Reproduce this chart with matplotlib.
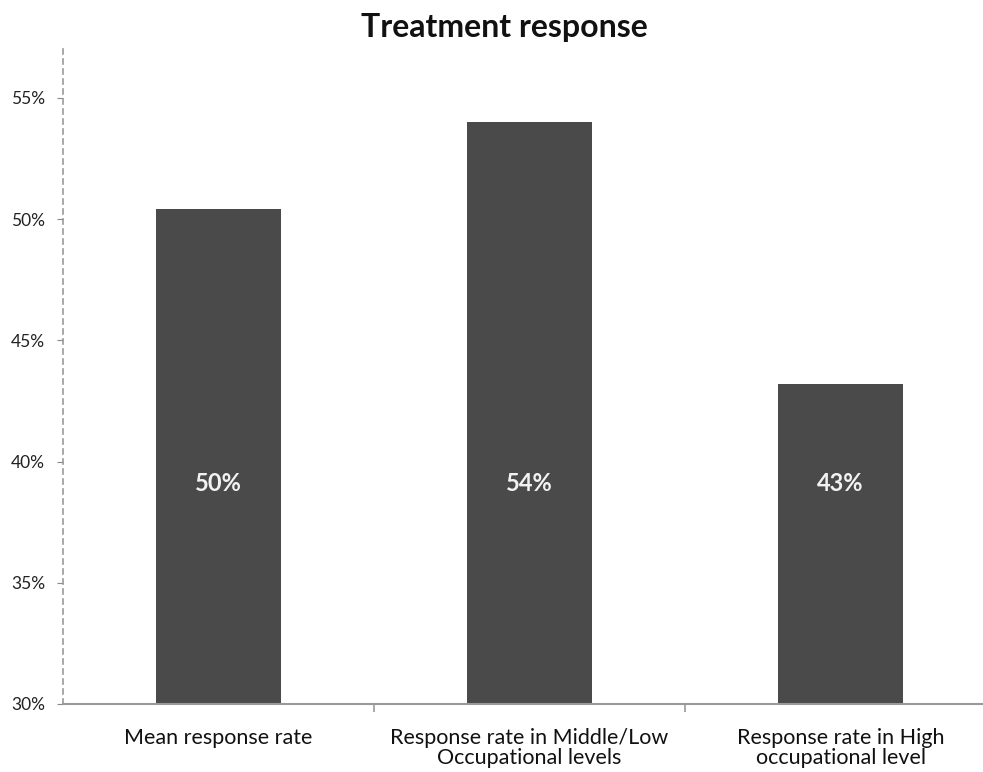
import matplotlib
matplotlib.use("Agg")
import matplotlib.pyplot as plt
from matplotlib.ticker import FuncFormatter, FixedLocator

categories = ["Mean response rate",
              "Response rate in Middle/Low\nOccupational levels",
              "Response rate in High\noccupational level"]
values = [50.4, 54.0, 43.2]
y_ticks = [30, 35, 40, 45, 50, 55]
title = "Treatment response"

plt.rcParams['font.family'] = ['Lato', 'DejaVu Sans']

fig = plt.figure(figsize=(9.83, 7.72), dpi=100)
ax = fig.add_axes([63/983, 1 - 704/772, 933/983, (704 - 47)/772])

x = list(range(len(categories)))
ax.bar(x, values, width=0.4, color="#4a4a4a", zorder=2)
ax.set_xlim(-0.5, len(categories) - 0.5)
ax.set_ylim(30, 57.1)

for xi, v in zip(x, values):
    ax.text(xi, 39.1, f"{round(v)}%", ha="center", va="center",
            color="#f2f2f2", fontsize=17, fontweight="bold", zorder=3)

ax.set_yticks(y_ticks)
ax.yaxis.set_major_formatter(FuncFormatter(lambda v, p: f"{int(v)}%"))
ax.tick_params(axis="y", labelsize=12.5, length=4, color="#888888", pad=9, labelcolor="#222222")

ax.set_xticks(x)
ax.set_xticklabels(categories, fontsize=15.5, linespacing=1.0, color="#111111")
ax.tick_params(axis="x", length=0, pad=17)
ax.xaxis.set_minor_locator(FixedLocator([0.5, 1.5]))
ax.tick_params(axis="x", which="minor", length=6, color="#999999", width=1.2)

for s in ["top", "right"]:
    ax.spines[s].set_visible(False)
ax.spines["left"].set_linestyle((0, (3, 3)))
ax.spines["left"].set_color("#999999")
ax.spines["left"].set_linewidth(1.2)
ax.spines["bottom"].set_color("#999999")
ax.spines["bottom"].set_linewidth(1.5)

fig.text(504/983, 1 - 28/772, title, ha="center", va="center",
         fontsize=23, fontweight="bold", color="#111111")

fig.savefig("out.png", dpi=100)
